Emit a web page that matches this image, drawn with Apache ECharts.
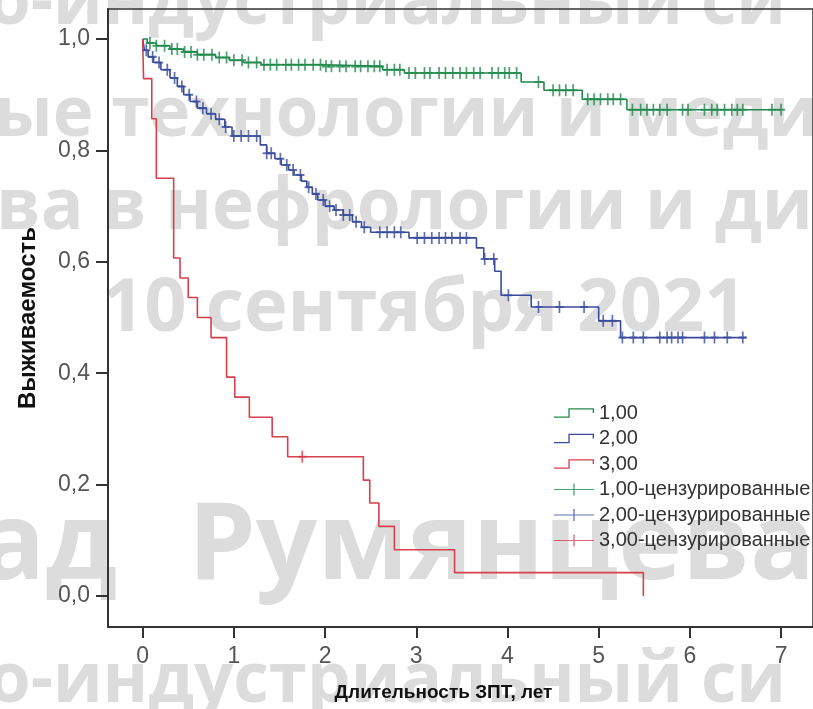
<!DOCTYPE html>
<html>
<head>
<meta charset="utf-8">
<script src="https://cdn.jsdelivr.net/npm/echarts@6/dist/echarts.min.js"></script>
<style>
    html, body { margin: 0; padding: 0; background: #fff; }
    #chart { width: 813px; height: 709px; }
</style>
</head>
<body>
<div id="chart"></div>
<script>
// tick labels
var xTicks = [0, 1, 2, 3, 4, 5, 6, 7];
var yTicks = [0, 0.2, 0.4, 0.6, 0.8, 1.0];

// group 1,00 - step curve (time, survival after event)
var g1Time = [0, 0.05, 0.15, 0.3, 0.45, 0.6, 0.8, 0.95, 1.1, 1.3, 2.0, 2.63, 2.87, 4.15, 4.4, 4.82, 5.31];
var g1Surv = [1.0, 0.993, 0.988, 0.982, 0.977, 0.972, 0.967, 0.962, 0.958, 0.954, 0.951, 0.945, 0.939, 0.923, 0.908, 0.892, 0.873];
var g1End = 7.0;
var g1Censor = [0.08, 0.15, 0.24, 0.32, 0.38, 0.46, 0.53, 0.60, 0.67, 0.76, 0.84, 0.92, 1.00, 1.09, 1.16, 1.25, 1.33, 1.40, 1.47, 1.57,
    1.63, 1.71, 1.78, 1.87, 1.95, 2.01, 2.07, 2.16, 2.23, 2.33, 2.39, 2.47, 2.54, 2.60, 2.68, 2.76, 2.82, 2.92, 2.99, 3.09,
    3.15, 3.25, 3.32, 3.40, 3.48, 3.55, 3.63, 3.70, 3.83, 3.90, 3.97, 4.02, 4.10, 4.34, 4.50, 4.57, 4.64, 4.72, 4.88, 4.95,
    5.02, 5.10, 5.16, 5.24, 5.37, 5.46, 5.53, 5.60, 5.67, 5.75, 5.92, 5.98, 6.16, 6.24, 6.30, 6.38, 6.46, 6.52, 6.58, 6.90, 7.00];

// group 2,00
var g2Time = [0, 0.02, 0.06, 0.12, 0.2, 0.3, 0.38, 0.45, 0.52, 0.6, 0.7, 0.8, 0.9, 0.98, 1.29, 1.36, 1.45, 1.52, 1.6, 1.66,
    1.74, 1.8, 1.86, 1.92, 2.0, 2.1, 2.2, 2.3, 2.4, 2.5, 2.92, 3.66, 3.74, 3.86, 3.93, 4.26, 5.0, 5.24];
var g2Surv = [1.0, 0.98, 0.968, 0.958, 0.945, 0.93, 0.915, 0.9, 0.888, 0.876, 0.866, 0.856, 0.842, 0.826, 0.81, 0.795, 0.785, 0.774, 0.765, 0.756,
    0.745, 0.734, 0.722, 0.711, 0.70, 0.693, 0.684, 0.672, 0.662, 0.653, 0.643, 0.625, 0.605, 0.583, 0.540, 0.519, 0.494, 0.464];
var g2End = 6.62;
var g2Censor = [0.04, 0.11, 0.18, 0.27, 0.35, 0.43, 0.51, 0.59, 0.66, 0.75, 0.84, 0.91, 1.00, 1.08, 1.16, 1.25, 1.36, 1.41, 1.51, 1.58,
    1.65, 1.73, 1.82, 1.90, 1.98, 2.05, 2.12, 2.20, 2.27, 2.34, 2.43, 2.60, 2.68, 2.76, 2.83, 3.01, 3.09, 3.17, 3.25, 3.32,
    3.39, 3.48, 3.55, 3.75, 3.85, 4.01, 4.34, 4.57, 4.84, 5.05, 5.15, 5.26, 5.38, 5.49, 5.67, 5.75, 5.80, 5.87, 5.92, 6.16,
    6.27, 6.41, 6.58];

// group 3,00
var g3Time = [0, 0.01, 0.10, 0.15, 0.34, 0.41, 0.50, 0.60, 0.75, 0.92, 1.01, 1.17, 1.42, 1.59, 2.42, 2.49, 2.59, 2.76, 3.42, 5.49];
var g3Surv = [1.0, 0.929, 0.857, 0.750, 0.607, 0.571, 0.536, 0.500, 0.464, 0.393, 0.357, 0.321, 0.286, 0.250, 0.208, 0.167, 0.125, 0.083, 0.042, 0.0];
var g3End = 5.49;
var g3Censor = [1.75];

var groupNames = ['1,00', '2,00', '3,00'];
var censorNames = ['1,00-цензурированные', '2,00-цензурированные', '3,00-цензурированные'];
var colors = ['#1f8a4c', '#3a4b9c', '#d63f4e'];

var stepIcon = 'path://M0,9.4H14V1.4H39V6H37.7V2.6H15.3V10.6H0Z';
var crossIcon = 'path://M0,5.4H19.35V0H20.65V5.4H40V6.6H20.65V12H19.35V6.6H0Z';
var plusMark = 'path://M6.3,0H9.7V8.3H16V11.7H9.7V20H6.3V11.7H0V8.3H6.3Z';

function curveData(times, surv, end) {
    var arr = [];
    for (var i = 0; i < times.length; i++) {
        arr.push([times[i], surv[i]]);
    }
    if (end > times[times.length - 1]) {
        arr.push([end, surv[surv.length - 1]]);
    }
    return arr;
}

// censor marks sit on the curve at their time
function censorData(times, surv, marks) {
    var arr = [];
    for (var j = 0; j < marks.length; j++) {
        var s = surv[0];
        for (var i = 0; i < times.length; i++) {
            if (times[i] <= marks[j]) s = surv[i];
        }
        arr.push([marks[j], s]);
    }
    return arr;
}

var curves = [
    curveData(g1Time, g1Surv, g1End),
    curveData(g2Time, g2Surv, g2End),
    curveData(g3Time, g3Surv, g3End)
];
var censors = [
    censorData(g1Time, g1Surv, g1Censor),
    censorData(g2Time, g2Surv, g2Censor),
    censorData(g3Time, g3Surv, g3Censor)
];

var series = [];
for (var k = 0; k < 3; k++) {
    series.push({
        name: groupNames[k],
        type: 'line',
        step: 'end',
        showSymbol: false,
        symbol: 'none',
        color: colors[k],
        lineStyle: { width: 1.6, color: colors[k] },
        data: curves[k],
        z: 3
    });
}
for (var k = 0; k < 3; k++) {
    series.push({
        name: censorNames[k],
        type: 'scatter',
        symbol: plusMark,
        symbolSize: [8, 12],
        color: colors[k],
        itemStyle: { color: colors[k] },
        data: censors[k],
        z: 4
    });
}

var legendData = [];
for (var k = 0; k < 3; k++) legendData.push({ name: groupNames[k], icon: stepIcon });
for (var k = 0; k < 3; k++) legendData.push({ name: censorNames[k], icon: crossIcon });

var wmFont = 'bold 69px "Open Sans"';
var wmBig = 'bold 108px "Open Sans"';
var wmColor = '#dcdcdc';

var option = {
    animation: false,
    backgroundColor: '#fff',
    textStyle: { fontFamily: '"Liberation Sans", Arial, sans-serif' },
    graphic: [
        { type: 'text', x: -12, y: 4, z: -10, style: { text: 'о-индустриальный си', font: wmFont, fill: wmColor, verticalAlign: 'middle' } },
        { type: 'text', x: -6, y: 116, z: -10, style: { text: 'ые технологии и меди', font: wmFont, fill: wmColor, verticalAlign: 'middle' } },
        { type: 'text', x: -4, y: 209, z: -10, style: { text: 'ва в нефрологии и ди', font: 'bold 71px "Open Sans"', fill: wmColor, verticalAlign: 'middle' } },
        { type: 'text', x: 102, y: 310, z: -10, style: { text: '10 сентября 2021', font: 'bold 74px "Open Sans"', fill: wmColor, verticalAlign: 'middle' } },
        { type: 'text', x: -20, y: 548, z: -10, style: { text: 'ад', font: wmBig, fill: wmColor, verticalAlign: 'middle' } },
        { type: 'text', x: 188, y: 548, z: -10, style: { text: 'Румянцева', font: wmBig, fill: wmColor, verticalAlign: 'middle' } },
        { type: 'text', x: -12, y: 682, z: -10, style: { text: 'о-индустриальный си', font: wmFont, fill: wmColor, verticalAlign: 'middle' } }
    ],
    grid: {
        left: 108,
        top: 9,
        bottom: 82,
        right: -6,
        show: true,
        borderColor: '#333',
        borderWidth: 1.5,
        backgroundColor: 'transparent'
    },
    legend: {
        orient: 'vertical',
        left: 549,
        top: 398,
        itemWidth: 40,
        itemHeight: 12,
        itemGap: 5.5,
        itemStyle: { borderWidth: 0 },
        textStyle: { fontSize: 20, color: '#333', lineHeight: 20, fontFamily: '"Liberation Sans", Arial, sans-serif' },
        data: legendData
    },
    xAxis: {
        type: 'value',
        min: -0.38,
        max: 7.35,
        name: 'Длительность ЗПТ, лет',
        nameLocation: 'middle',
        nameGap: 56,
        nameTextStyle: { fontSize: 19, fontWeight: 'bold', color: '#111', padding: [0, 34, 0, 0] },
        axisLine: { show: true, onZero: false, lineStyle: { color: '#333', width: 2 } },
        axisTick: { show: true, length: 11, customValues: xTicks, lineStyle: { color: '#333', width: 2 } },
        axisLabel: { customValues: xTicks, fontSize: 23, color: '#555', margin: 18 },
        splitLine: { show: false }
    },
    yAxis: {
        type: 'value',
        min: -0.0557,
        max: 1.054,
        name: 'Выживаемость',
        nameLocation: 'middle',
        nameGap: 68,
        nameTextStyle: { fontSize: 24, fontWeight: 'bold', color: '#111' },
        axisLine: { show: true, onZero: false, lineStyle: { color: '#333', width: 2 } },
        axisTick: { show: true, length: 12, customValues: yTicks, lineStyle: { color: '#333', width: 2 } },
        axisLabel: {
            customValues: yTicks,
            fontSize: 23,
            color: '#555',
            margin: 18,
            formatter: function (v) { return v.toFixed(1).replace('.', ','); }
        },
        splitLine: { show: false }
    },
    series: series
};

var chart = echarts.init(document.getElementById('chart'));
chart.setOption(option);
</script>
</body>
</html>
